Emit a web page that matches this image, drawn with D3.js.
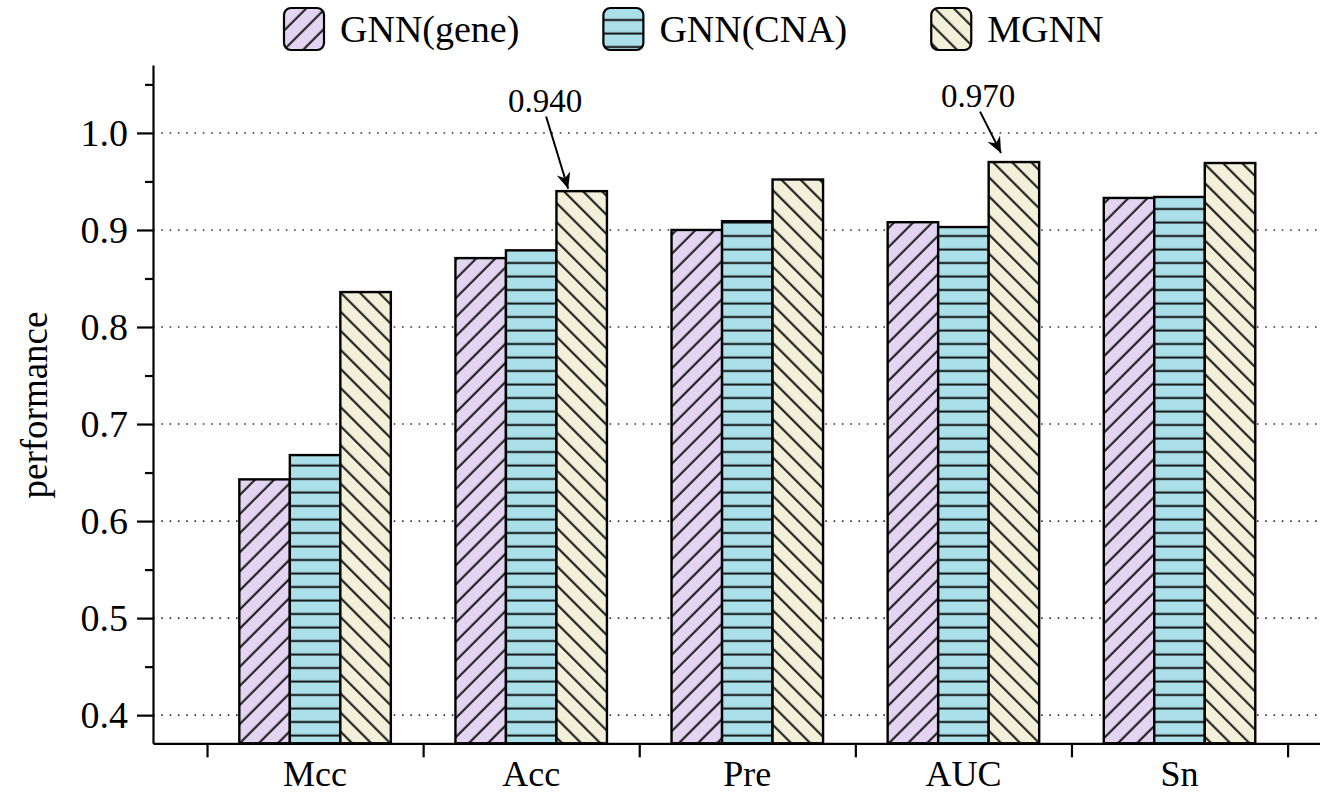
<!DOCTYPE html>
<html>
<head>
<meta charset="utf-8">
<script src="https://cdn.jsdelivr.net/npm/d3@7"></script>
<style>
  html, body { margin: 0; padding: 0; background: #fff; }
  svg { display: block; }
  text { font-family: "Liberation Serif", "Times New Roman", Times, serif; fill: #000; }
</style>
</head>
<body>
<svg id="chart" width="1320" height="796"></svg>
<script>
// ---- data ----
const categories = ["Mcc", "Acc", "Pre", "AUC", "Sn"];
const seriesNames = ["GNN(gene)", "GNN(CNA)", "MGNN"];
const gnnGene = [0.643, 0.871, 0.900, 0.908, 0.933];
const gnnCNA  = [0.668, 0.879, 0.909, 0.903, 0.934];
const mgnn    = [0.836, 0.940, 0.952, 0.970, 0.969];
const yMajorTicks = [0.4, 0.5, 0.6, 0.7, 0.8, 0.9, 1.0];
const yMinorTicks = [0.45, 0.55, 0.65, 0.75, 0.85, 0.95, 1.05];
const xBoundaryTicks = [-0.5, 0.5, 1.5, 2.5, 3.5, 4.5];
const annotations = [
  { label: "0.940", tip: [1.171, 0.9425], text: [1.064, 1.022], start: [1.069, 1.017] },
  { label: "0.970", tip: [3.174, 0.9793], text: [3.068, 1.027], start: [3.077, 1.022] }
];

// ---- styles ----
const fills = ["#e3d5f1", "#abe0eb", "#f3f0da"];
const hatches = ["fwd", "horiz", "back"];

const svg = d3.select("#chart");
const x = d3.scaleLinear().domain([-0.75, 4.65]).range([153, 1320]);
const y = d3.scaleLinear().domain([0.371, 1.07]).range([743.3, 65]);
const barW = 0.2337;

// patterns
const defs = svg.append("defs");
function hatchPattern(id, bg, rot) {
  const s = 13.5;
  const p = defs.append("pattern").attr("id", id)
    .attr("patternUnits", "userSpaceOnUse")
    .attr("width", s).attr("height", s)
    .attr("patternTransform", rot === null ? null : `rotate(${rot})`);
  p.append("rect").attr("width", s).attr("height", s).attr("fill", bg);
  p.append("line").attr("x1", -1).attr("x2", s + 1).attr("y1", 6.5).attr("y2", 6.5)
    .attr("stroke", "#111").attr("stroke-width", 2);
}
hatchPattern("fwd", fills[0], -45);
hatchPattern("horiz", fills[1], null);
hatchPattern("back", fills[2], 45);

// grid
svg.append("g").selectAll("line").data(yMajorTicks).join("line")
  .attr("x1", x(-0.75)).attr("x2", x(4.65))
  .attr("y1", d => y(d)).attr("y2", d => y(d))
  .attr("stroke", "#333").attr("stroke-width", 1.6)
  .attr("stroke-dasharray", "1.6,6.7");

// bars
const series = [gnnGene, gnnCNA, mgnn];
const barG = svg.append("g");
series.forEach((vals, si) => {
  barG.append("g").selectAll("rect").data(vals).join("rect")
    .attr("x", (d, i) => x(i + (si - 1.5) * barW))
    .attr("width", x(barW) - x(0))
    .attr("y", d => y(d))
    .attr("height", d => y(0.371) - y(d))
    .attr("fill", `url(#${hatches[si]})`)
    .attr("stroke", "#000").attr("stroke-width", 2.4);
});

// y axis
const yAxis = d3.axisLeft(y).tickValues(yMajorTicks).tickSize(16).tickSizeOuter(0)
  .tickPadding(9).tickFormat(d3.format(".1f"));
const yg = svg.append("g").attr("transform", `translate(${x(-0.75)},0)`).call(yAxis);
yg.select(".domain").attr("stroke-width", 2.2);
yg.selectAll(".tick line").attr("stroke-width", 2.2);
yg.selectAll(".tick text").style("font-size", "38px").attr("font-family", null);
const yMinor = d3.axisLeft(y).tickValues(yMinorTicks).tickSize(8).tickSizeOuter(0).tickFormat("");
const ym = svg.append("g").attr("transform", `translate(${x(-0.75)},0)`).call(yMinor);
ym.select(".domain").remove();
ym.selectAll(".tick line").attr("stroke-width", 2.2);

// x axis
const xAxis = d3.axisBottom(x).tickValues(xBoundaryTicks).tickSize(14).tickSizeOuter(0).tickFormat("");
const xg = svg.append("g").attr("transform", `translate(0,${y(0.371)})`).call(xAxis);
xg.select(".domain").attr("stroke-width", 2.2);
xg.selectAll(".tick line").attr("stroke-width", 2.2);

svg.append("g").selectAll("text").data(categories).join("text")
  .attr("x", (d, i) => x(i)).attr("y", 786)
  .attr("text-anchor", "middle").style("font-size", "36px")
  .text(d => d);

// y label
svg.append("text").attr("transform", "translate(47,405) rotate(-90)")
  .attr("text-anchor", "middle").style("font-size", "37px").text("performance");

// annotations
defs.append("marker").attr("id", "arrowhead")
  .attr("viewBox", "-17 -8 19 16").attr("refX", 0).attr("refY", 0)
  .attr("markerWidth", 19).attr("markerHeight", 16).attr("markerUnits", "userSpaceOnUse")
  .attr("orient", "auto")
  .append("path").attr("d", "M0,0 L-16,-7 L-11,0 L-16,7 Z").attr("fill", "#000");
const ann = svg.append("g");
annotations.forEach(a => {
  ann.append("text").attr("x", x(a.text[0])).attr("y", y(a.text[1]))
    .attr("text-anchor", "middle").style("font-size", "33px").text(a.label);
  ann.append("line")
    .attr("x1", x(a.start[0])).attr("y1", y(a.start[1]))
    .attr("x2", x(a.tip[0])).attr("y2", y(a.tip[1]))
    .attr("stroke", "#000").attr("stroke-width", 2)
    .attr("marker-end", "url(#arrowhead)");
});

// legend
const leg = svg.append("g");
let lx = 284;
seriesNames.forEach((name, si) => {
  leg.append("rect").attr("x", lx).attr("y", 8).attr("width", 40).attr("height", 42)
    .attr("rx", 7).attr("fill", `url(#${hatches[si]})`)
    .attr("stroke", "#000").attr("stroke-width", 2.2);
  const t = leg.append("text").attr("x", lx + 56).attr("y", 42)
    .style("font-size", "38px").text(name);
  lx = lx + 56 + t.node().getComputedTextLength() + 84;
});
</script>
</body>
</html>
